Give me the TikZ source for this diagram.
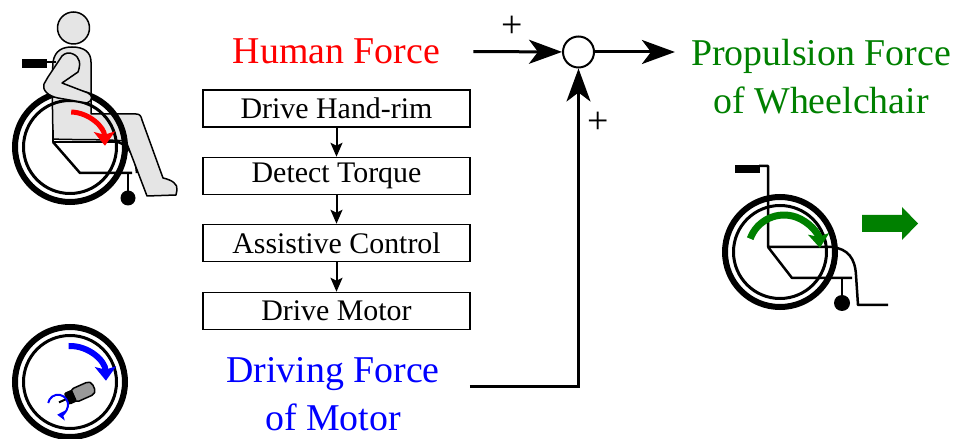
\documentclass[tikz,border=0pt]{standalone}
\usepackage{fontspec}
\setmainfont{Liberation Serif}
\usetikzlibrary{arrows.meta}

\tikzset{
  stage/.style={draw, line width=1.5bp, minimum width=267bp, minimum height=37bp,
    inner sep=0pt, font=\fontsize{30}{36}\selectfont},
  bigtext/.style={inner sep=0pt, align=center, font=\fontsize{38}{48}\selectfont},
  plus/.style={inner sep=0pt, font=\fontsize{38}{40}\selectfont},
  sig/.style={line width=3bp, -{Stealth[length=33bp,width=24bp,inset=9bp]}},
  flow/.style={line width=2bp, -{Stealth[length=14bp,width=12bp,inset=3bp]}},
  ring/.style={line width=6bp},
  rim/.style={line width=3bp},
  frame/.style={line width=2.5bp, line join=round},
  limb/.style={draw, line width=1.5bp, fill=black!10, line join=round},
  spin/.style={line width=6bp, -{Stealth[length=14bp,width=21bp,inset=3bp]}},
}

\begin{document}
\begin{tikzpicture}[x=1bp,y=-1bp]
  % image-style coordinates: x right, y down
  \useasboundingbox (0,0) rectangle (958,439);

  % ---- signal flow ----
  \node[bigtext,red] (hf) at (336.5,51) {Human Force};
  \foreach \i/\y/\t in {1/108.5/Drive Hand-rim, 2/176/Detect Torque,
                        3/243/Assistive Control, 4/311/Drive Motor} {
    \node[stage] (b\i) at (336.5,\y) {\t};
  }
  \foreach \a/\b in {b1/b2, b2/b3, b3/b4} {
    \draw[flow] (\a) -- (\b);
  }
  \node[bigtext,blue] (df) at (333,394) {Driving Force\\of Motor};
  \node[bigtext,green!50!black] (pf) at (821,77) {Propulsion Force\\of Wheelchair};

  \node[circle, draw, line width=2bp, minimum size=31bp, inner sep=0pt] (sum) at (578.5,52) {};
  \draw[sig, shorten <=33bp] (hf) -- (sum);
  \draw[sig, shorten >=16bp] (sum) -- (sum -| pf.west);
  \draw[sig, shorten <=30bp] (df.4) -| (sum.south);
  \node[plus] (p1) at (512,27) {+};
  \node[plus] (p2) at (598,123) {+};

  % ---- rider on hand-rim (top left) ----
  \draw[frame] (118,142) .. controls (130,146) and (136,158) .. (137,173);
  \draw[limb] (52,80) -- (53,62) .. controls (55,50) and (63,47) .. (72,47)
    .. controls (84,47) and (91,52) .. (91,62) -- (91,114) -- (136,114)
    .. controls (140,114) and (141,116) .. (142,120) -- (163,178)
    .. controls (172,180) and (178,184) .. (177,190) -- (176,195)
    -- (147,196) -- (126,141) .. controls (100,139) and (70,140) .. (53,139) -- cycle;
  \draw[frame] (53,130) -- (53,142) -- (120,142);
  \draw[frame] (53,142) -- (80,173) -- (132,173);
  \draw[frame] (128,173) -- (128,191);
  \fill (128,198) circle[radius=7.5];
  \draw[ring] (70,147) circle[radius=55];
  \draw[rim] (70,147) circle[radius=46.5];
  \draw[limb] (73,54) .. controls (80,57) and (81,64) .. (78,72) -- (62,83)
    -- (88,93) .. controls (93,95) and (93,101) .. (87,103) -- (58,98)
    .. controls (48,96) and (42,90) .. (44,84) -- (48,77) -- (62,56)
    .. controls (65,53) and (69,52) .. (73,54) -- cycle;
  \draw[limb] (73.5,28) circle[radius=16];
  \fill (22,59) rectangle (47,68);
  \draw[line width=2bp] (47,62.5) -- (56,62.5);
  \draw[spin,red,line width=5bp] (71.2,112) arc[start angle=272, end angle=358, radius=35];

  % ---- motor inside wheel (bottom left) ----
  \draw[ring] (70,382) circle[radius=55];
  \draw[rim] (70,382) circle[radius=46.5];
  \draw[spin,blue] (68.7,346) arc[start angle=268, end angle=358, radius=36];
  \begin{scope}[shift={(80,393)}, rotate=24]
    \draw[line width=1.5bp, fill=black!40, rounded corners=5bp] (-9,-7) rectangle (15,7);
    \fill[rounded corners=2bp] (-15,-6.5) rectangle (-6,6.5);
    \draw[line width=2bp] (-23,0) -- (-15,0);
  \end{scope}
  \draw[blue, line width=2bp, -{Stealth[length=8bp,width=10bp,inset=2bp]}]
    (48.2,403) arc[start angle=190, end angle=455, radius=10];

  % ---- wheelchair moving forward (right) ----
  \fill (735,165) rectangle (760,173);
  \draw[frame] (759,166) -- (768,166) -- (768,247) -- (832,247)
    .. controls (848,249) and (855,258) .. (856,275) -- (858,305) -- (888,305);
  \draw[frame] (768,247) -- (792,278) -- (852,278);
  \draw[frame] (842,278) -- (842,296);
  \fill (842,303) circle[radius=8];
  \draw[ring] (780,252) circle[radius=55];
  \draw[rim] (780,252) circle[radius=46.5];
  \draw[spin,green!50!black,line width=7bp] (750.2,238.7) arc[start angle=200, end angle=355, radius=36];
  \fill[green!50!black] (862,215) -- (902,215) -- (902,207) -- (918,223.5)
    -- (902,240) -- (902,232) -- (862,232) -- cycle;
\end{tikzpicture}
\end{document}
